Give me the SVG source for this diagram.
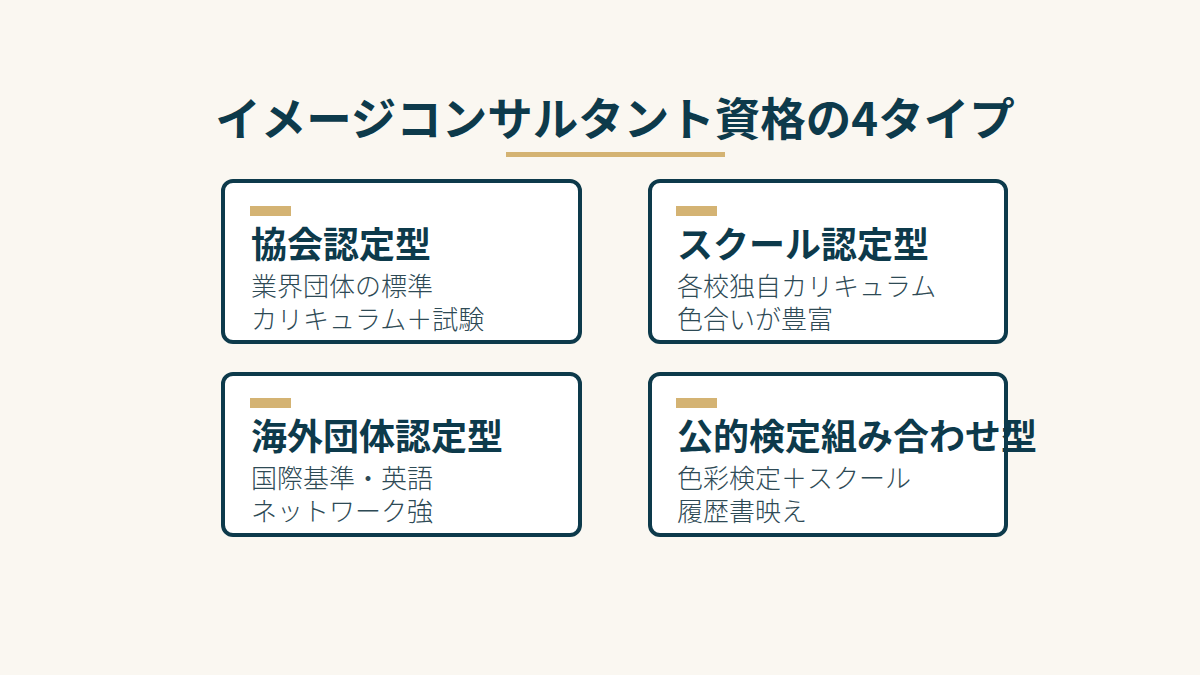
<svg xmlns="http://www.w3.org/2000/svg" width="1200" height="675" viewBox="0 0 1200 675">
<style>
.card{fill:#fff;stroke:#0d3a4b;stroke-width:4}
.bar{fill:#d4b373}
.h{font-family:"Noto Sans CJK JP",sans-serif;font-weight:700;font-size:36px;fill:#0d3a4b}
.s{font-family:"Noto Sans CJK JP",sans-serif;font-weight:300;font-size:26px;fill:#2e4a55}
</style>
<rect width="1200" height="675" fill="#faf7f1"/>
<text x="615" y="136" text-anchor="middle" font-family="'Noto Sans CJK JP',sans-serif" font-weight="700" font-size="45.5" fill="#0d3a4b">イメージコンサルタント資格の4タイプ</text>
<rect x="506" y="152" width="219" height="5" class="bar"/>
<g id="n1"><rect class="card" x="223" y="181" width="357" height="161" rx="10"/><rect class="bar" x="250" y="206" width="41" height="10"/><text class="h" x="251" y="258">協会認定型</text><text class="s" x="251" y="296">業界団体の標準</text><text class="s" x="251" y="329">カリキュラム＋試験</text></g>
<g id="n2"><rect class="card" x="650" y="181" width="356" height="161" rx="10"/><rect class="bar" x="676" y="206" width="41" height="10"/><text class="h" x="677" y="258">スクール認定型</text><text class="s" x="677" y="296">各校独自カリキュラム</text><text class="s" x="677" y="329">色合いが豊富</text></g>
<g id="n3"><rect class="card" x="223" y="374" width="357" height="161" rx="10"/><rect class="bar" x="250" y="398" width="41" height="10"/><text class="h" x="251" y="450">海外団体認定型</text><text class="s" x="251" y="488">国際基準・英語</text><text class="s" x="251" y="521">ネットワーク強</text></g>
<g id="n4"><rect class="card" x="650" y="374" width="356" height="161" rx="10"/><rect class="bar" x="676" y="398" width="41" height="10"/><text class="h" x="677" y="450">公的検定組み合わせ型</text><text class="s" x="677" y="488">色彩検定＋スクール</text><text class="s" x="677" y="521">履歴書映え</text></g>
<g id="connectors"/>
</svg>
